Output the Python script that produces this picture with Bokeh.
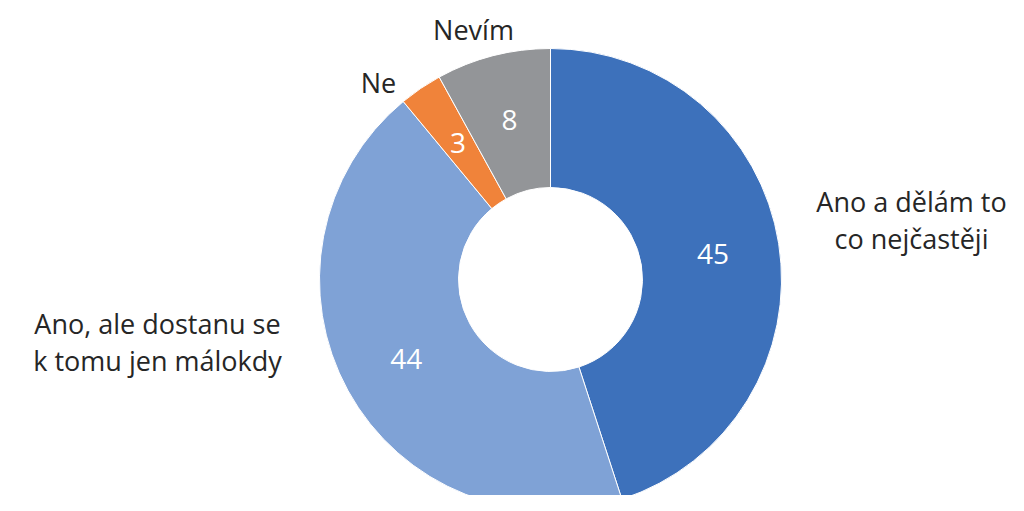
import math
from bokeh.plotting import figure
from bokeh.models import Range1d, ColumnDataSource
from bokeh.core.properties import value
from bokeh.embed import file_html
from bokeh.resources import INLINE

categories = ["Ano a dělám to co nejčastěji", "Ano, ale dostanu se k tomu jen málokdy", "Ne", "Nevím"]
values = [45, 44, 3, 8]
colors = ["#3D71BB", "#7FA2D6", "#F0833A", "#939598"]

# outer label lines and layout (pixels relative to the donut centre, y up)
label_lines = [["Ano a dělám to", "co nejčastěji"], ["Ano, ale dostanu se", "k tomu jen málokdy"], ["Ne"], ["Nevím"]]
label_anchor = [(361, 60), (-393, -62), (-172, 197), (-77, 250)]
line_gap = 37

FONT = "Open Sans"
FS = "27px"
R_IN, R_OUT = 92, 231

total = sum(values)
starts, ends, mids = [], [], []
cum = 0
for v in values:
    a0 = math.pi / 2 - 2 * math.pi * cum / total
    cum += v
    a1 = math.pi / 2 - 2 * math.pi * cum / total
    starts.append(a0)
    ends.append(a1)
    mids.append((a0 + a1) / 2)

src = ColumnDataSource(dict(cat=categories, val=values, color=colors, start=starts, end=ends))

p = figure(width=1008, height=495, output_backend="svg", toolbar_location=None,
           x_range=Range1d(-550, 458), y_range=Range1d(-216, 279), min_border=0)
p.axis.visible = False
p.grid.visible = False
p.outline_line_color = None
p.background_fill_color = "white"
p.border_fill_color = "white"

p.annular_wedge(x=0, y=0, inner_radius=R_IN, outer_radius=R_OUT, start_angle="start", end_angle="end",
                direction="clock", fill_color="color", line_color="white", line_width=1, source=src)

r_lab = (R_IN + R_OUT) / 2 + 3
ix = [r_lab * math.cos(m) for m in mids]
iy = [r_lab * math.sin(m) for m in mids]
p.text(x=ix, y=iy, text=[str(v) for v in values], text_color="white", text_font=value(FONT),
       text_font_size="28px", text_align="center", text_baseline="middle")

tx, ty, tt = [], [], []
for lines, (ax, ay) in zip(label_lines, label_anchor):
    n = len(lines)
    for i, ln in enumerate(lines):
        tx.append(ax)
        ty.append(ay - (i - (n - 1) / 2) * line_gap)
        tt.append(ln)
p.text(x=tx, y=ty, text=tt, text_color="#262626", text_font=value(FONT),
       text_font_size=FS, text_align="center", text_baseline="middle")

open("out.html", "w").write(file_html(p, INLINE))
